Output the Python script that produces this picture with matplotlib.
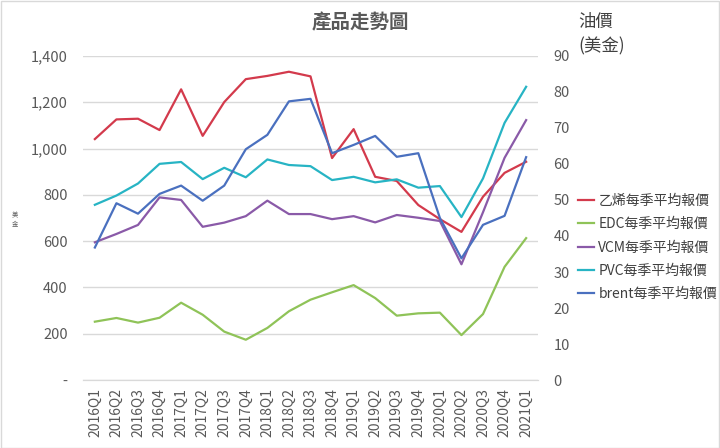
import matplotlib
matplotlib.use("Agg")
import matplotlib.pyplot as plt
from matplotlib.patches import Rectangle
from matplotlib.ticker import FuncFormatter

plt.rcParams['font.family'] = ['Noto Sans CJK TC', 'DejaVu Sans']

quarters = ["2016Q1", "2016Q2", "2016Q3", "2016Q4", "2017Q1", "2017Q2", "2017Q3",
            "2017Q4", "2018Q1", "2018Q2", "2018Q3", "2018Q4", "2019Q1", "2019Q2",
            "2019Q3", "2019Q4", "2020Q1", "2020Q2", "2020Q3", "2020Q4", "2021Q1"]

ethylene = [1041, 1126, 1129, 1080, 1256, 1055, 1201, 1300, 1314, 1332, 1312,
            959, 1084, 878, 860, 756, 695, 640, 792, 895, 943]
edc = [252, 268, 248, 269, 334, 282, 209, 174, 225, 297, 347,
       379, 410, 354, 278, 288, 291, 194, 285, 489, 613]
vcm = [595, 631, 670, 789, 778, 662, 680, 708, 775, 717, 717,
       695, 708, 681, 713, 701, 687, 500, 725, 960, 1123]
pvc = [757, 797, 849, 934, 942, 868, 917, 876, 953, 929, 924,
       864, 878, 854, 867, 831, 838, 704, 871, 1111, 1267]
brent = [36.8, 49.1, 46.2, 51.7, 54.0, 49.8, 54.0, 64.1, 68.1, 77.4, 78.1,
         63.0, 65.3, 67.8, 62.0, 63.0, 45.0, 33.8, 43.1, 45.6, 61.9]

labels = ["乙烯每季平均報價", "EDC每季平均報價", "VCM每季平均報價",
          "PVC每季平均報價", "brent每季平均報價"]
colors = ["#d33a4c", "#8fc358", "#8a5aa8", "#27b4c4", "#4a70bf"]

text_color = "#595959"
grid_color = "#d9d9d9"

fig = plt.figure(figsize=(7.2, 4.48), dpi=100)
ax = fig.add_axes([83 / 720, 68 / 448, 455 / 720, 324 / 448])
ax2 = ax.twinx()

x = list(range(len(quarters)))
handles = []
for vals, c in zip([ethylene, edc, vcm, pvc], colors[:4]):
    h, = ax.plot(x, vals, color=c, lw=1.6)
    handles.append(h)
h, = ax2.plot(x, brent, color=colors[4], lw=1.6)
handles.append(h)

ax.set_xlim(-0.55, 20.55)
ax.set_ylim(0, 1400)
ax.set_yticks(range(0, 1401, 200))
ax.yaxis.set_major_formatter(FuncFormatter(lambda v, p: "-" if v == 0 else f"{int(v):,}"))
ax.grid(axis="y", color=grid_color, lw=1)
ax.set_axisbelow(True)
ax.set_xticks(x)
ax.set_xticklabels(quarters, rotation=90)
ax.tick_params(axis="y", length=0, pad=11, labelsize=10.5, labelcolor=text_color)
ax.tick_params(axis="x", length=0, pad=6, labelsize=10, labelcolor=text_color)

ax2.set_ylim(0, 90)
ax2.set_yticks(range(0, 91, 10))
ax2.tick_params(axis="y", length=0, pad=11, labelsize=10.5, labelcolor=text_color)

for a in (ax, ax2):
    for s in ["top", "left", "right"]:
        a.spines[s].set_visible(False)
    a.spines["bottom"].set_color(grid_color)

fig.text(0.5, 1 - 23 / 448, "產品走勢圖", ha="center", va="center",
         fontsize=14, fontweight="bold", color=text_color)
fig.text(578 / 720, 1 - 22 / 448, "油價", ha="left", va="center", fontsize=12.5, color="#404040")
fig.text(578 / 720, 1 - 46 / 448, "(美金)", ha="left", va="center", fontsize=12.5, color="#404040")
fig.text(15 / 720, 0.5 + 5 / 448, "美\n金", ha="center", va="center", fontsize=4.5,
         color=text_color, linespacing=1.0)

fig.legend(handles, labels, loc="upper left", bbox_to_anchor=(572 / 720, 1 - 188 / 448),
           frameon=False, fontsize=10, handlelength=1.2, handletextpad=0.3,
           labelspacing=0.68, labelcolor="#404040", borderaxespad=0)

fig.patches.append(Rectangle((0.5 / 720, 0.5 / 448), 1 - 1.5 / 720, 1 - 1.5 / 448,
                             transform=fig.transFigure, fill=False,
                             edgecolor=grid_color, lw=1))

fig.savefig("out.png", dpi=100, facecolor="white")
